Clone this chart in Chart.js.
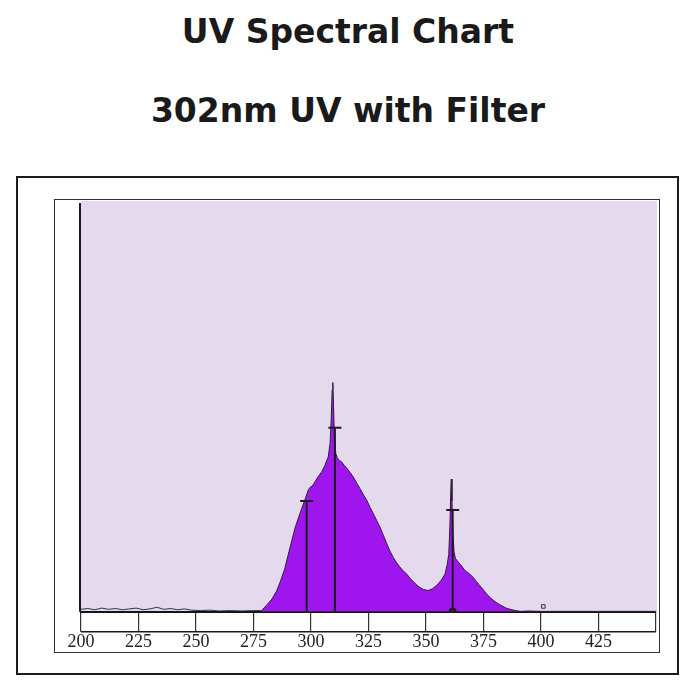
<!DOCTYPE html>
<html lang="en">
<head>
<meta charset="UTF-8">
<title>UV Spectral Chart</title>
<script src="https://cdn.jsdelivr.net/npm/chart.js"></script>
<style>
    body {
        margin: 0;
        width: 691px;
        height: 687px;
        position: relative;
        overflow: hidden;
        background: #fff;
        font-family: "DejaVu Sans", Verdana, sans-serif;
    }

    .title {
        position: absolute;
        left: 0;
        width: 696px;
        margin: 0;
        text-align: center;
        font-size: 33px;
        font-weight: bold;
        line-height: 1;
        color: #1a1a1a;
    }

    #t1 { top: 15px; }
    #t2 { top: 94px; }

    .outer {
        position: absolute;
        left: 16px;
        top: 176px;
        width: 659px;
        height: 495px;
        border: 2px solid #1c1c1c;
    }

    .inner {
        position: absolute;
        left: 54px;
        top: 199px;
        width: 604px;
        height: 452px;
        border: 1px solid #333;
    }
</style>
</head>
<body>
    <h1 class="title" id="t1">UV Spectral Chart</h1>
    <h1 class="title" id="t2">302nm UV with Filter</h1>
    <div class="outer"></div>
    <div class="inner"><canvas id="spectrum"></canvas></div>

<script>
    // baseline noise before the lamp emission starts (nm, % of plot height)
    const noiseNm = [
        200, 203, 206, 209, 212, 215, 218, 221, 224, 227, 230, 233, 236, 239, 242, 245, 248,
        252, 256, 260, 265, 270, 275, 278.5
    ];
    const noiseLevel = [
        0.6, 0.8, 0.5, 0.9, 0.6, 0.8, 0.5, 0.7, 0.9, 0.5, 0.7, 1.1, 0.6, 0.8, 0.5, 0.7, 0.4,
        0.3, 0.4, 0.2, 0.3, 0.2, 0.3, 0.3
    ];

    // emission band
    const wavelengths = [
        278.5, 281, 283, 285, 286.5, 288.5, 290, 291.5, 293,
        294.5, 296, 297.5, 298.8, 299.6, 300.5, 301.7, 303, 304.7, 306, 307.5, 308.3, 308.8,
        309.2, 309.5, 309.8, 310.2, 310.8, 311.5, 312.4, 313.3, 314.5, 315.5, 317, 318.4, 320,
        321.5, 323, 324.2, 325.7, 327, 328.5, 330, 331.5, 333, 334.5, 335.8, 337, 338.5, 340,
        341.6, 343, 344.5, 346, 347.4, 349, 351, 352.8, 354.6, 356.5, 358.3, 359.2, 359.9,
        360.4, 360.8, 361, 361.3, 361.7, 362.2, 362.8, 364, 365, 367, 369, 370.6, 372, 373.5,
        375, 376.4, 378, 379.5, 381, 382.5, 384.5, 386.5, 389, 391, 395, 400, 410, 420, 430,
        440, 450
    ];
    const intensity = [
        0.3, 1.8, 3.1, 5.0, 7.1, 10.3, 13.7, 17.0, 20.3,
        22.8, 25.2, 27.5, 29.6, 30.3, 30.6, 31.6, 32.8, 34.1, 35.6, 37.7, 41, 47,
        54, 55.8, 50, 42, 38.5, 37.4, 36.8, 36.5, 35.6, 35, 33.9, 32.8, 31.2,
        29.8, 28.3, 27.2, 25.4, 24, 22.3, 20.6, 18.6, 16.5, 14.6, 13.2, 12.1, 11, 10,
        9.2, 8.2, 7.3, 6.5, 5.9, 5.4, 5.2, 5.6, 6.4, 7.6, 9.2, 11.5, 14,
        21, 30, 32.3, 27, 19, 14.5, 13, 12.1, 11.5, 10, 9.2, 8.3, 7.3, 6.3,
        5.3, 4.3, 3.4, 2.7, 2.1, 1.6, 1.0, 0.6, 0.3, 0.1, 0.2, 0.1, 0.1, 0.1, 0.1,
        0.1, 0.1
    ];

    // marker lines with crossbars
    const markerNm = [298.1, 310.4, 361.6];
    const markerTop = [27, 44.8, 24.8];

    // small box mark near 400 nm
    const boxNm = [401];
    const boxLevel = [1.3];

    const tickStep = 25;
    const xMin = 200;
    const xMax = 450;

    const markerSets = markerNm.map((w, i) => ({
        data: [{ x: w, y: 0 }, { x: w, y: markerTop[i] }],
        order: 1,
        showLine: true,
        borderColor: '#1f1a22',
        borderWidth: 2,
        pointStyle: [i === 2 ? 'circle' : 'line', 'line'],
        pointRadius: [i === 2 ? 3 : 0, 6.5],
        pointBorderWidth: 2,
        pointBorderColor: '#1f1a22',
        pointBackgroundColor: 'rgba(0,0,0,0)',
        fill: false
    }));

    // lavender plot background, y axis line, bottom of scale strip
    const framePlugin = {
        id: 'framePlugin',
        beforeDraw(chart) {
            const { ctx, chartArea: a } = chart;
            ctx.save();
            ctx.fillStyle = '#e4d9ed';
            ctx.fillRect(a.left, a.top, a.right - a.left + 1, a.bottom - a.top);
            ctx.restore();
        },
        afterDraw(chart) {
            const { ctx, chartArea: a } = chart;
            ctx.save();
            ctx.strokeStyle = '#1a1a1a';
            ctx.lineWidth = 2;
            ctx.beginPath();
            ctx.moveTo(a.left - 1, a.top + 2);
            ctx.lineTo(a.left - 1, a.bottom);
            ctx.stroke();
            ctx.lineWidth = 1.5;
            ctx.beginPath();
            ctx.moveTo(a.left, a.bottom + 20);
            ctx.lineTo(a.right, a.bottom + 20);
            ctx.stroke();
            ctx.restore();
        }
    };

    new Chart(document.getElementById('spectrum'), {
        type: 'scatter',
        data: {
            datasets: [
                {
                    data: wavelengths.map((w, i) => ({ x: w, y: intensity[i] })),
                    order: 3,
                    showLine: true,
                    fill: 'origin',
                    backgroundColor: '#9f15ee',
                    borderColor: '#2b2030',
                    borderWidth: 1,
                    pointRadius: 0,
                    tension: 0
                },
                {
                    data: noiseNm.map((w, i) => ({ x: w, y: noiseLevel[i] })),
                    order: 2,
                    showLine: true,
                    fill: false,
                    borderColor: '#3a3340',
                    borderWidth: 1,
                    pointRadius: 0,
                    tension: 0
                },
                ...markerSets,
                {
                    data: boxNm.map((w, i) => ({ x: w, y: boxLevel[i] })),
                    order: 1,
                    pointStyle: 'rect',
                    pointRadius: 2.5,
                    pointBorderWidth: 1,
                    pointBorderColor: '#333',
                    pointBackgroundColor: 'rgba(0,0,0,0)'
                }
            ]
        },
        options: {
            responsive: true,
            maintainAspectRatio: false,
            animation: false,
            layout: { autoPadding: false, padding: { left: 26, right: 3, top: 1, bottom: 0 } },
            plugins: {
                legend: { display: false },
                tooltip: { enabled: false }
            },
            scales: {
                x: {
                    type: 'linear',
                    min: xMin,
                    max: xMax,
                    ticks: {
                        stepSize: tickStep,
                        padding: 2,
                        color: '#222',
                        font: { family: '"Liberation Serif", serif', size: 18, lineHeight: 0.9 },
                        callback: v => (v === xMax ? '' : v)
                    },
                    grid: {
                        drawOnChartArea: false,
                        drawTicks: true,
                        tickLength: 20,
                        color: '#333',
                        lineWidth: 1.2
                    },
                    border: { display: true, color: '#141414', width: 2 }
                },
                y: {
                    display: false,
                    min: 0,
                    max: 100
                }
            }
        },
        plugins: [framePlugin]
    });
</script>
</body>
</html>
